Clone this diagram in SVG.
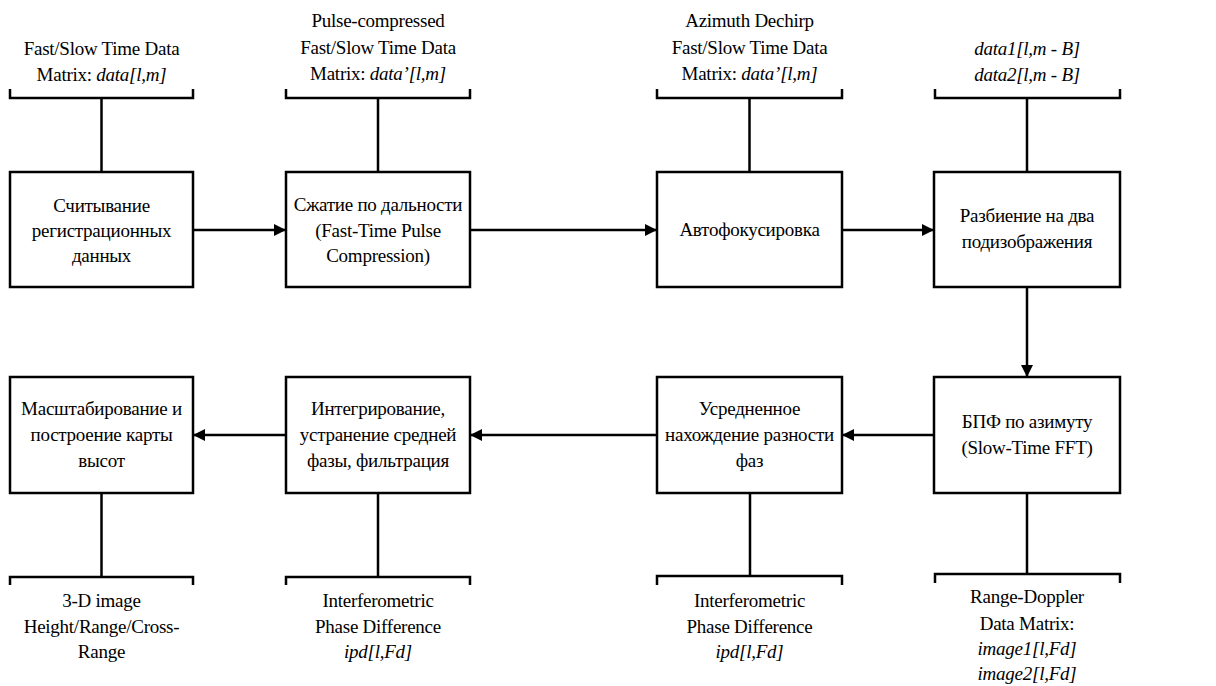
<svg xmlns="http://www.w3.org/2000/svg" width="1216" height="686" viewBox="0 0 1216 686">
<style>
.box{fill:#fff;stroke:#000;stroke-width:2.5}
.ln{fill:none;stroke:#000;stroke-width:2.5}
.t{font-family:"Liberation Serif",serif;font-size:19px;fill:#000;text-anchor:middle;letter-spacing:-0.25px}
.i{font-style:italic}
</style>
<defs>
<marker id="ah" markerUnits="userSpaceOnUse" markerWidth="13" markerHeight="13" refX="12" refY="6" orient="auto">
<path d="M0,0 L12,6 L0,12 Z" fill="#000"/>
</marker>
</defs>
<rect width="1216" height="686" fill="#fff"/>
<g id="connectors">
<line class="ln" x1="193" y1="230" x2="286" y2="230" marker-end="url(#ah)"/>
<line class="ln" x1="470" y1="230" x2="657" y2="230" marker-end="url(#ah)"/>
<line class="ln" x1="842" y1="230" x2="934" y2="230" marker-end="url(#ah)"/>
<line class="ln" x1="1027" y1="287" x2="1027" y2="377" marker-end="url(#ah)"/>
<line class="ln" x1="934" y1="435" x2="842" y2="435" marker-end="url(#ah)"/>
<line class="ln" x1="657" y1="435" x2="470" y2="435" marker-end="url(#ah)"/>
<line class="ln" x1="286" y1="435" x2="193" y2="435" marker-end="url(#ah)"/>
</g>
<g font-family="Liberation Serif, serif">
<g id="n1">
<path class="ln" d="M10,89 V98 H193 V89 M101.5,98 V172"/>
<text class="t" x="101.5" y="55">Fast/Slow Time Data</text>
<text class="t" x="101.5" y="81">Matrix: <tspan class="i">data[l,m]</tspan></text>
<rect class="box" x="10" y="172" width="183" height="115"/>
<text class="t" x="101.5" y="212">Считывание</text>
<text class="t" x="101.5" y="237">регистрационных</text>
<text class="t" x="101.5" y="262">данных</text>
</g>
<g id="n2">
<path class="ln" d="M286,89 V98 H470 V89 M378,98 V172"/>
<text class="t" x="378" y="27">Pulse-compressed</text>
<text class="t" x="378" y="53.5">Fast/Slow Time Data</text>
<text class="t" x="378" y="80">Matrix: <tspan class="i">data’[l,m]</tspan></text>
<rect class="box" x="286" y="172" width="184" height="115"/>
<text class="t" x="378" y="211">Сжатие по дальности</text>
<text class="t" x="378" y="237">(Fast-Time Pulse</text>
<text class="t" x="378" y="262">Compression)</text>
</g>
<g id="n3">
<path class="ln" d="M657,89 V98 H842 V89 M749.5,98 V172"/>
<text class="t" x="749.5" y="27">Azimuth Dechirp</text>
<text class="t" x="749.5" y="53.5">Fast/Slow Time Data</text>
<text class="t" x="749.5" y="80">Matrix: <tspan class="i">data’[l,m]</tspan></text>
<rect class="box" x="657" y="172" width="185" height="115"/>
<text class="t" x="749.5" y="236">Автофокусировка</text>
</g>
<g id="n4">
<path class="ln" d="M935,89 V98 H1120 V89 M1027,98 V172"/>
<text class="t i" x="1027" y="55">data1[l,m - B]</text>
<text class="t i" x="1027" y="81">data2[l,m - B]</text>
<rect class="box" x="934" y="172" width="186" height="115"/>
<text class="t" x="1027" y="222">Разбиение на два</text>
<text class="t" x="1027" y="248">подизображения</text>
</g>
<g id="n5">
<rect class="box" x="934" y="377" width="186" height="116"/>
<text class="t" x="1027" y="428">БПФ по азимуту</text>
<text class="t" x="1027" y="454">(Slow-Time FFT)</text>
<path class="ln" d="M1027,493 V574 M935,583 V574 H1120 V583"/>
<text class="t" x="1027" y="603">Range-Doppler</text>
<text class="t" x="1027" y="630">Data Matrix:</text>
<text class="t i" x="1027" y="655">image1[l,Fd]</text>
<text class="t i" x="1027" y="680">image2[l,Fd]</text>
</g>
<g id="n6">
<rect class="box" x="657" y="377" width="185" height="116"/>
<text class="t" x="749.5" y="415">Усредненное</text>
<text class="t" x="749.5" y="441">нахождение разности</text>
<text class="t" x="749.5" y="467">фаз</text>
<path class="ln" d="M750,493 V576 M657,585 V576 H842 V585"/>
<text class="t" x="749.5" y="607">Interferometric</text>
<text class="t" x="749.5" y="633">Phase Difference</text>
<text class="t i" x="749.5" y="658">ipd[l,Fd]</text>
</g>
<g id="n7">
<rect class="box" x="286" y="377" width="184" height="116"/>
<text class="t" x="378" y="415">Интегрирование,</text>
<text class="t" x="378" y="441">устранение средней</text>
<text class="t" x="378" y="467">фазы, фильтрация</text>
<path class="ln" d="M378,493 V577 M286,585 V577 H470 V585"/>
<text class="t" x="378" y="607">Interferometric</text>
<text class="t" x="378" y="633">Phase Difference</text>
<text class="t i" x="378" y="658">ipd[l,Fd]</text>
</g>
<g id="n8">
<rect class="box" x="10" y="377" width="183" height="116"/>
<text class="t" x="101.5" y="415">Масштабирование и</text>
<text class="t" x="101.5" y="441">построение карты</text>
<text class="t" x="101.5" y="467">высот</text>
<path class="ln" d="M101.5,493 V577 M10,585 V577 H193 V585"/>
<text class="t" x="101.5" y="607">3-D image</text>
<text class="t" x="101.5" y="633">Height/Range/Cross-</text>
<text class="t" x="101.5" y="658">Range</text>
</g>
</g>
</svg>
